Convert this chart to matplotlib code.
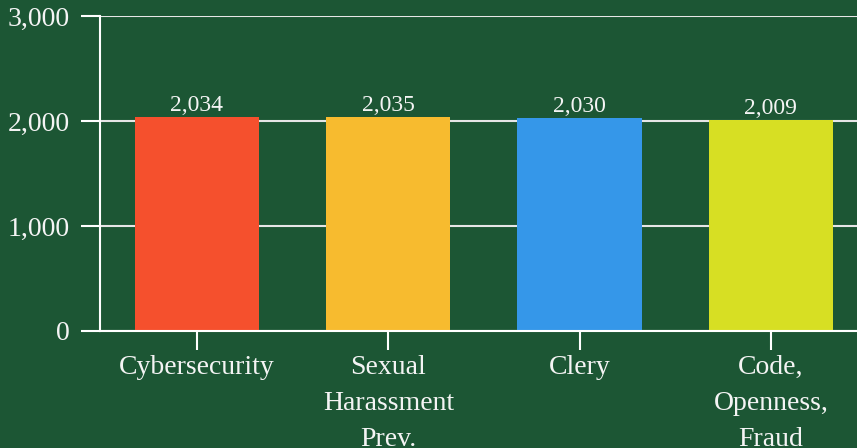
import numpy as np
import matplotlib.pyplot as plt

categories = ['Cybersecurity', 'Sexual\nHarassment\nPrev.', 'Clery', 'Code,\nOpenness,\nFraud']
values = [2034, 2035, 2030, 2009]
colors = ['#f5502d', '#f7bb2f', '#3597e9', '#d7df23']
yticks = [0, 1000, 2000, 3000]

bg = '#1c5634'
plt.rcParams['font.family'] = ['Liberation Serif', 'DejaVu Serif']

fig = plt.figure(figsize=(8.57, 4.48), dpi=100, facecolor=bg)
ax = fig.add_axes([100/857, 1-331/448, 1-100/857, 315/448])
ax.set_facecolor(bg)

x = np.arange(len(categories))
ax.bar(x, values, width=0.65, color=colors, zorder=2)
for xi, v in zip(x, values):
    ax.text(xi, v + 10, '{:,}'.format(v), ha='center', va='bottom',
            fontsize=17, color='#f4f4f4', zorder=3)

ax.set_xlim(-0.507, 3.45)
ax.set_ylim(0, 3000)
ax.set_yticks(yticks)
ax.set_yticklabels(['{:,}'.format(t) for t in yticks])
ax.set_xticks(x)
ax.set_xticklabels(categories, linespacing=1.58)
ax.grid(axis='y', color='#e6e6e6', lw=1.5, zorder=1)

for s in ['top', 'right']:
    ax.spines[s].set_visible(False)
ax.spines['left'].set_color('white')
ax.spines['left'].set_linewidth(1.5)
ax.spines['bottom'].set_color('white')
ax.spines['bottom'].set_linewidth(1.5)
ax.spines['bottom'].set_zorder(4)

ax.tick_params(axis='y', length=14, width=1.5, color='white', labelcolor='#f4f4f4',
               labelsize=20, pad=8)
ax.tick_params(axis='x', length=14, width=1.5, color='white', labelcolor='#f4f4f4',
               labelsize=20, pad=3)

fig.savefig('out.png', dpi=100, facecolor=bg)
